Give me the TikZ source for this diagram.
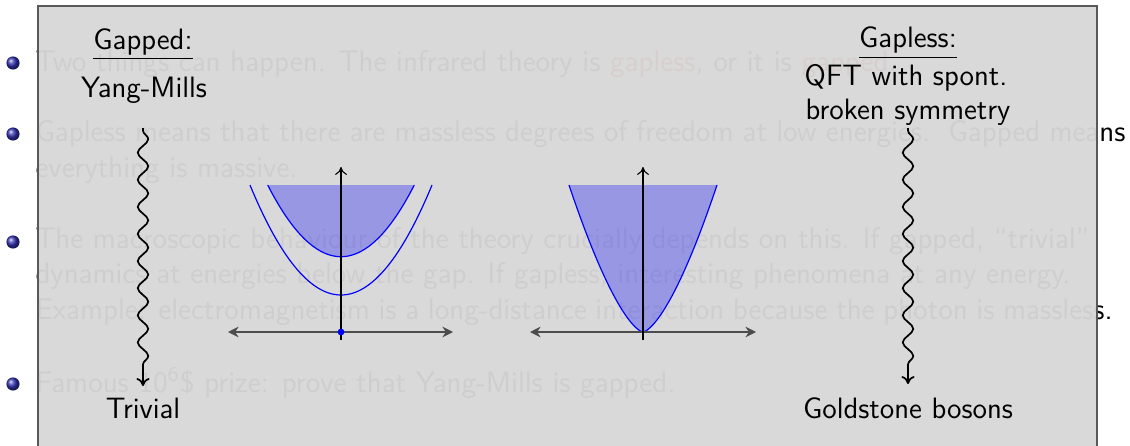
\documentclass[tikz,border=0pt]{standalone}
\usepackage{fontspec}
\usetikzlibrary{decorations.pathmorphing,arrows.meta}
\definecolor{struct}{rgb}{0.2,0.2,0.7}
\definecolor{boxgray}{gray}{0.845}
\tikzset{
  txt/.style={inner sep=0pt, font=\sffamily\fontsize{11.2}{13.6}\selectfont},
  slide/.style={inner sep=0pt, anchor=base west, font=\sffamily\fontsize{11.3}{13.6}\selectfont},
  lbl/.style={txt, anchor=base},
  wavy/.style={line width=0.65pt, decorate,
    decoration={snake, amplitude=2pt, segment length=10.3pt, pre length=1pt, post length=4pt},
    -{To[length=3pt,width=5pt]}},
  haxis/.style={line width=0.8pt, black!70, {Stealth[length=4pt,width=4pt]}-{Stealth[length=4pt,width=4pt]}},
  vaxis/.style={line width=0.4pt, black, -{To[length=3pt,width=4.5pt]}},
  curve/.style={blue, line width=0.45pt},
  band/.style={fill=blue, fill opacity=0.3, draw=none},
  bullet/.style={ball color=struct},
}
\begin{document}
\begin{tikzpicture}[x=0.38pt,y=-0.38pt]
\useasboundingbox (0,0) rectangle (1130,445);
\clip (0,0) rectangle (1130,445);
% ---- underlying slide ----
\shade[bullet] (13,63) circle (2.5pt);
\shade[bullet] (13,134) circle (2.5pt);
\shade[bullet] (13,242) circle (2.5pt);
\shade[bullet] (13,384) circle (2.5pt);
\node[slide] (l1) at (35,72) {Two things can happen.  The infrared theory is \textcolor{red}{gapless}, or it is \textcolor{red}{gapped}.};
\node[slide] (l2) at (35,141) {\makebox[414.2pt][s]{Gapless means that there are massless degrees of freedom at low energies.\ \ Gapped means}};
\node[slide] (l3) at (35,177) {everything is massive.};
\node[slide] (l4) at (35,248) {The macroscopic behaviour of the theory crucially depends on this.  If gapped, ``trivial''};
\node[slide] (l5) at (35,283) {dynamics at energies below the gap.  If gapless, interesting phenomena at any energy.};
\node[slide] (l6) at (35,319) {\makebox[409.3pt][s]{Example: electromagnetism is a long-distance interaction because the photon is massless.}};
\node[slide] (l7) at (35,392) {Famous 10\textsuperscript{6}\$ prize: prove that Yang-Mills is gapped.};
% ---- overlay box ----
\fill[boxgray, fill opacity=0.96] (38,6) rectangle (1097,470);
\draw[black!65, line width=0.6pt] (38,470) -- (38,6) -- (1097,6) -- (1097,470);
% ---- labels ----
\node[lbl] (gapped) at (143,49) {\underline{Gapped:}};
\node[lbl] (ym) at (144,97) {Yang-Mills};
\node[lbl] (gapless) at (908,48) {\underline{Gapless:}};
\node[lbl] (qft) at (906,85) {QFT with spont.};
\node[lbl] (bsym) at (908,119) {broken symmetry};
\node[lbl] (triv) at (143,418) {Trivial};
\node[lbl] (gold) at (908,418) {Goldstone bosons};
% ---- wavy arrows ----
\coordinate (wl1) at (143,128);
\coordinate (wl2) at (143,386);
\coordinate (wr1) at (908,128);
\coordinate (wr2) at (908,384);
\draw[wavy] (wl1) -- (wl2);
\draw[wavy] (wr1) -- (wr2);
% ---- left plot (gapped) ----
\coordinate (o1) at (341,332);
\fill[band] plot[domain=-73.3:73.3, samples=60] ({341+\x},{332-75.3-0.01334*\x*\x}) -- cycle;
\draw[curve] plot[domain=-73.3:73.3, samples=60] ({341+\x},{332-75.3-0.01334*\x*\x});
\draw[curve] plot[domain=-91:91, samples=70] ({341+\x},{332-37-0.01328*\x*\x});
\coordinate (a1l) at (228,332);
\coordinate (a1r) at (453,332);
\coordinate (a1b) at (341,340);
\coordinate (a1t) at (341,167);
\draw[haxis] (a1l) -- (a1r);
\draw[vaxis] (a1b) -- (a1t);
\fill[blue] (o1) circle (1.3pt);
% ---- right plot (gapless) ----
\coordinate (o2) at (643,332);
\fill[band] plot[domain=-74:74, samples=80] ({643+\x},{332-147*(abs(\x)/74)*sqrt(abs(\x)/74)}) -- cycle;
\draw[curve] plot[domain=-74:74, samples=80] ({643+\x},{332-147*(abs(\x)/74)*sqrt(abs(\x)/74)});
\coordinate (a2l) at (530,332);
\coordinate (a2r) at (756,332);
\coordinate (a2b) at (643,340);
\coordinate (a2t) at (643,167);
\draw[haxis] (a2l) -- (a2r);
\draw[vaxis] (a2b) -- (a2t);
\end{tikzpicture}
\end{document}
